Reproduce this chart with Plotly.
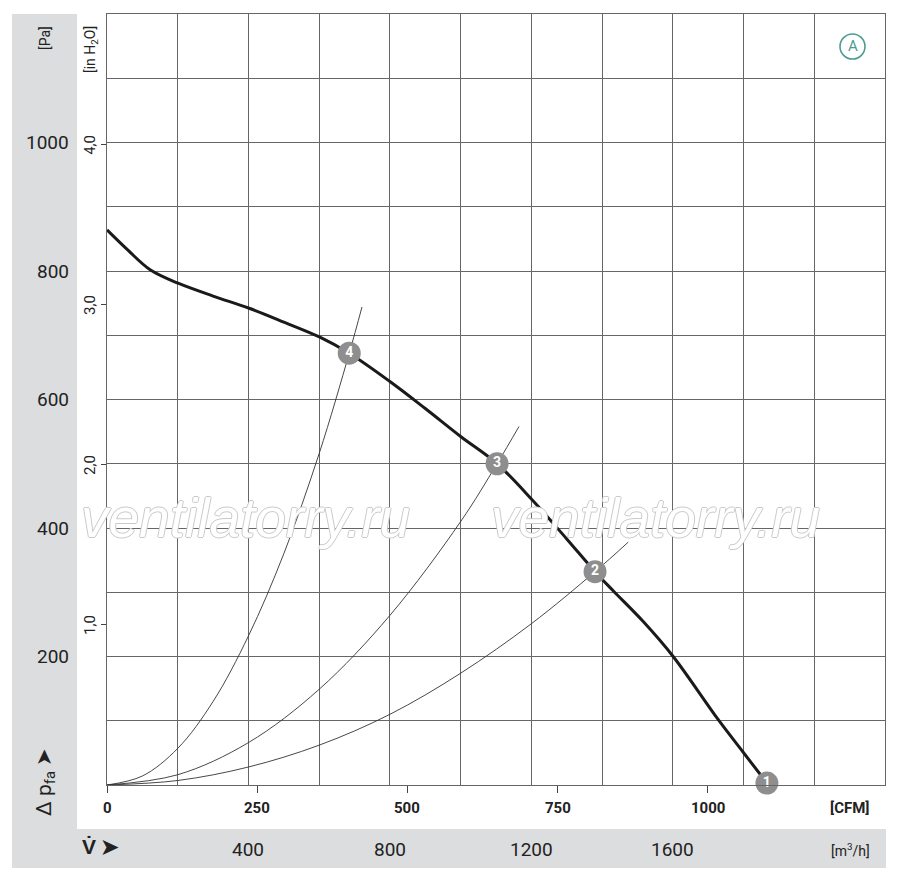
import plotly.graph_objects as go

# fan curve, m3/h vs Pa
fan_q = [0, 60, 122, 201, 300, 402, 502, 602, 685, 800, 900, 1001, 1103, 1202, 1300, 1380, 1432, 1517, 1601, 1728, 1799, 1866]
fan_p = [864, 832, 802, 781, 761, 742, 720, 697, 672, 628, 586, 542, 500, 444, 383, 332, 302, 254, 200, 102, 51, 3]

# system curves through the operating points
sys4_q = [0, 100, 200, 300, 400, 500, 600, 685, 721]
sys4_p = [0, 14, 57, 130, 232, 360, 516, 672, 744]
sys3_q = [0, 200, 400, 600, 800, 1000, 1103, 1165]
sys3_p = [0, 16, 66, 149, 264, 410, 500, 558]
sys2_q = [0, 200, 400, 600, 800, 1000, 1200, 1380, 1474]
sys2_p = [0, 7, 28, 62, 110, 174, 251, 332, 378]

op_q = [1866, 1380, 1103, 685]
op_p = [3, 332, 500, 672]
op_lbl = ["1", "2", "3", "4"]

pa_ticks = [200, 400, 600, 800, 1000]
inh2o_ticks = [1, 2, 3, 4]
inh2o_lbl = ["1,0", "2,0", "3,0", "4,0"]
cfm_ticks = [0, 250, 500, 750, 1000]
m3h_ticks = [400, 800, 1200, 1600]

FONT = "Roboto, Liberation Sans Narrow, sans-serif"
TXT = "#222222"
BAND = "#dcdddf"
GRID = "#666666"

QMAX = 2200
PMAX = 1200

fig = go.Figure()

for q, p in [(sys4_q, sys4_p), (sys3_q, sys3_p), (sys2_q, sys2_p)]:
    fig.add_trace(go.Scatter(x=q, y=p, mode="lines", line=dict(color="#333333", width=0.9, shape="spline"),
                             hoverinfo="skip", showlegend=False))

fig.add_trace(go.Scatter(x=fan_q, y=fan_p, mode="lines", line=dict(color="#1a1a1a", width=3, shape="spline"),
                         showlegend=False))

fig.add_trace(go.Scatter(x=op_q, y=op_p, mode="markers+text", text=op_lbl, textposition="middle center",
                         marker=dict(size=23, color="#8e8e8e"),
                         textfont=dict(color="white", size=14, family=FONT, weight="bold"),
                         cliponaxis=False, showlegend=False))

# invisible traces to get the secondary axes drawn
fig.add_trace(go.Scatter(x=[0], y=[0], xaxis="x2", yaxis="y", mode="markers", marker=dict(opacity=0),
                         hoverinfo="skip", showlegend=False))
fig.add_trace(go.Scatter(x=[0], y=[0], xaxis="x", yaxis="y2", mode="markers", marker=dict(opacity=0),
                         hoverinfo="skip", showlegend=False))

fig.update_layout(
    width=900, height=883,
    margin=dict(l=107, r=15, t=14, b=98),
    paper_bgcolor="white", plot_bgcolor="white",
    xaxis=dict(range=[0, QMAX], dtick=200, showgrid=True, gridcolor=GRID, gridwidth=1,
               showticklabels=False, zeroline=False, showline=True, mirror=True, linecolor=GRID),
    yaxis=dict(range=[0, PMAX], dtick=100, showgrid=True, gridcolor=GRID, gridwidth=1,
               showticklabels=False, zeroline=False, showline=True, mirror=True, linecolor=GRID),
    xaxis2=dict(range=[0, QMAX / 1.699], overlaying="x", side="bottom", anchor="y",
                tickvals=cfm_ticks, ticks="outside", ticklen=7, tickcolor="#444",
                showticklabels=False, showgrid=False, zeroline=False),
    yaxis2=dict(range=[0, PMAX / 249.09], overlaying="y", side="left", anchor="x",
                tickvals=inh2o_ticks, ticks="outside", ticklen=5, tickcolor="#444",
                showticklabels=False, showgrid=False, zeroline=False),
)

W, H = 778.0, 771.0


def px(X):
    return (X - 107) / W


def py(Y):
    return (785 - Y) / H


# grey bands
fig.add_shape(type="rect", xref="paper", yref="paper", x0=px(12), x1=px(77), y0=py(868), y1=py(14),
              fillcolor=BAND, line_width=0, layer="below")
fig.add_shape(type="rect", xref="paper", yref="paper", x0=px(12), x1=px(886), y0=py(868), y1=py(829),
              fillcolor=BAND, line_width=0, layer="below")

# "A" badge
fig.add_shape(type="circle", xref="paper", yref="paper", x0=px(840), x1=px(865), y0=py(59), y1=py(34),
              line=dict(color="#4e9b92", width=1.6))

ann = [dict(x=px(852.5), y=py(46.5), xref="paper", yref="paper", text="A",
            font=dict(family=FONT, size=15, color="#4e9b92"))]
for v in pa_ticks:
    ann.append(dict(x=px(71), y=v, xref="paper", yref="y", text=str(v), xanchor="right",
                    font=dict(size=19, color=TXT, family=FONT)))
for v, t in zip(inh2o_ticks, inh2o_lbl):
    ann.append(dict(x=px(90), y=v, xref="paper", yref="y2", text=t, textangle=-90,
                    font=dict(size=15, color=TXT, family=FONT)))
for v in cfm_ticks:
    ann.append(dict(x=v, y=py(808), xref="x2", yref="paper", text=str(v),
                    font=dict(size=15, color=TXT, family=FONT, weight="bold")))
for v in m3h_ticks:
    ann.append(dict(x=v, y=py(849), xref="x", yref="paper", text=str(v),
                    font=dict(size=19, color=TXT, family=FONT)))

ann += [
    dict(x=px(45), y=py(38), xref="paper", yref="paper", text="[Pa]", textangle=-90,
         font=dict(size=14, color=TXT, family=FONT)),
    dict(x=px(91), y=py(50), xref="paper", yref="paper", text="[in H<sub>2</sub>O]", textangle=-90,
         font=dict(size=14, color=TXT, family=FONT)),
    dict(x=px(45), y=py(782), xref="paper", yref="paper", text="Δ p<sub>fa</sub> ➤", textangle=-90,
         font=dict(size=21, color=TXT, family=FONT)),
    dict(x=px(850), y=py(808), xref="paper", yref="paper", text="[CFM]",
         font=dict(size=15, color=TXT, family=FONT, weight="bold")),
    dict(x=px(850), y=py(850), xref="paper", yref="paper", text="[m<sup>3</sup>/h]",
         font=dict(size=14, color=TXT, family=FONT)),
    dict(x=px(100), y=py(847), xref="paper", yref="paper", text="V̇ ➤",
         font=dict(size=21, color=TXT, family=FONT, weight="bold")),
]

wm_font = dict(size=55, color="white", family="Liberation Sans, Arial, sans-serif",
               style="italic",
               shadow="1px 0 0 #cacaca, -1px 0 0 #cacaca, 0 1px 0 #cacaca, 0 -1px 0 #cacaca")
for cx in [245, 655]:
    ann.append(dict(x=px(cx), y=py(518), xref="paper", yref="paper", text="ventilatorry.ru",
                    font=wm_font))

for a in ann:
    a.setdefault("showarrow", False)
    a.setdefault("xanchor", "center")
    a.setdefault("yanchor", "middle")
    fig.add_annotation(**a)

fig.write_html("out.html", config={"displayModeBar": False},
               post_script="document.body.style.margin='0px';")
